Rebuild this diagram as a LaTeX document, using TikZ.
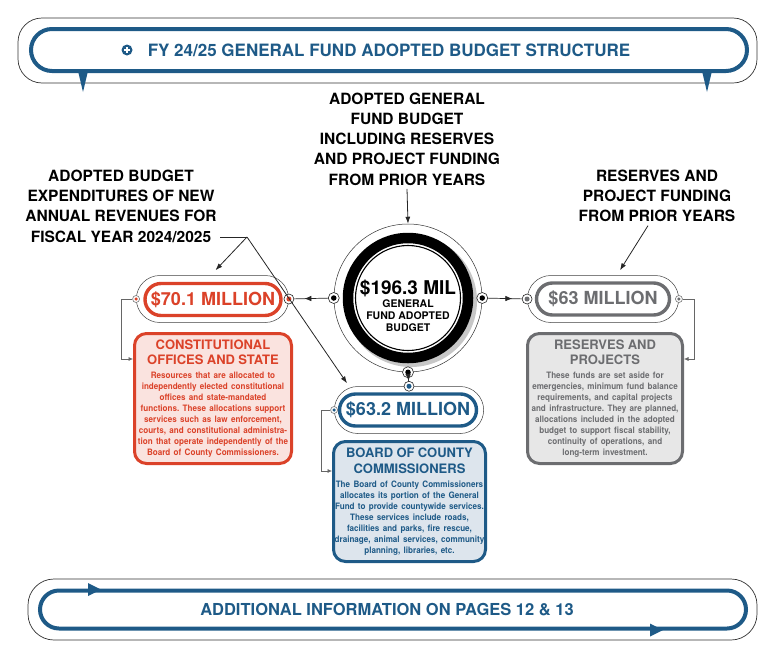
\documentclass[tikz,border=0pt]{standalone}
\usepackage{fontspec}
\setmainfont{TeX Gyre Heros}
\usetikzlibrary{positioning,shapes.misc,arrows.meta,decorations.markings}

\definecolor{fundblue}{RGB}{30,90,135}
\definecolor{fundred}{RGB}{219,66,41}
\definecolor{fundgray}{RGB}{108,109,112}
\definecolor{pinkfill}{RGB}{250,227,223}
\definecolor{bluefill}{RGB}{221,229,237}
\definecolor{grayfill}{RGB}{231,231,231}

\newcommand\headfont{\fontsize{15.5}{20.3}\selectfont}
\newcommand\boxtitle{\fontsize{13}{15.5}\selectfont}
\newcommand\boxbody{\fontsize{8.8}{11}\selectfont\addfontfeature{FakeStretch=0.92}}
\frenchspacing

\begin{document}
\begin{tikzpicture}
[x=1pt,y=-1pt,
 every node/.style={font=\bfseries},
 frame/.style={draw=black!80,line width=0.7pt,rounded corners=#1},
 halo/.style={draw=black!75,line width=0.5pt,rounded rectangle,minimum height=47pt},
 amount/.style={draw=#1,text=#1,line width=3.4pt,fill=white,rounded rectangle,minimum height=32pt,inner xsep=2pt,font=\bfseries\fontsize{18}{20}\selectfont},
 infobox/.style={draw=#1,text=#1,line width=3pt,rounded corners=12pt,align=center,inner xsep=1pt,inner ysep=0pt},
 port/.style 2 args={circle,draw=black!85,fill=white,line width=0.6pt,inner sep=0pt,minimum size=#2,
   path picture={\fill[#1] (path picture bounding box.center) circle[radius=#2/4];}},
 tip/.style={draw=black!85,line width=0.8pt,-{Latex[length=7pt,width=5pt]}},
 feed/.style={draw=black!60,line width=0.6pt,-{Latex[length=4.5pt,width=4pt]}},
 midarrow/.style={draw=black!85,line width=0.7pt,postaction={decorate},
   decoration={markings,mark=at position #1 with {\arrow{Latex[length=7pt,width=5.5pt]}}}}]
\useasboundingbox (0,0) rectangle (773,656);

% top banner
\node[frame=24pt,minimum width=739pt,minimum height=65pt] (topframe) at (387.5,50.5) {};
\node[draw=fundblue,line width=4pt,rounded corners=21pt,minimum width=716pt,minimum height=42pt,
  text=fundblue,font=\bfseries\fontsize{17}{20}\selectfont] (banner) at (389,50)
  {FY 24/25 GENERAL FUND ADOPTED BUDGET STRUCTURE};
\node[circle,fill=fundblue,minimum size=11pt,inner sep=0pt,
  path picture={\draw[white,line width=1.3pt]
    ([xshift=-2.6pt]path picture bounding box.center) -- ([xshift=2.6pt]path picture bounding box.center)
    ([yshift=-2.6pt]path picture bounding box.center) -- ([yshift=2.6pt]path picture bounding box.center);}]
  (plusicon) at (127,50) {};
\fill[fundblue] (78,71) -- (88,71) -- (83,92) -- cycle;
\fill[fundblue] (702,71) -- (712,71) -- (707,92) -- cycle;

% labels
\node[align=center,font=\bfseries\headfont] (totaltxt) at (407,139) {ADOPTED GENERAL\\FUND BUDGET\\INCLUDING RESERVES\\AND PROJECT FUNDING\\FROM PRIOR YEARS};
\node[align=center,font=\bfseries\headfont] (newtxt) at (121,206) {ADOPTED BUDGET\\EXPENDITURES OF NEW\\ANNUAL REVENUES FOR\\FISCAL YEAR 2024/2025};
\node[align=center,font=\bfseries\headfont] (restxt) at (657,196) {RESERVES AND\\PROJECT FUNDING\\FROM PRIOR YEARS};

% hub
\coordinate (hubc) at (408,298);
\fill[black!22] ([shift={(3pt,-3pt)}]hubc) circle[radius=66];
\fill[white] (hubc) circle[radius=55];
\draw[line width=10.5pt] (hubc) circle[radius=60];
\draw[line width=1.1pt,fill=white] (hubc) circle[radius=52.5];
\node[circle,draw=black!80,line width=0.5pt,minimum size=148pt] (hub) at (hubc) {};
\node[align=center] (hubtext) at ([yshift=-8pt]hubc)
  {{\fontsize{19}{20}\selectfont\$196.3 MIL}\\[1pt]
   {\fontsize{10.5}{13.5}\selectfont GENERAL}\\{\fontsize{10.5}{13.5}\selectfont FUND ADOPTED}\\{\fontsize{10.5}{13.5}\selectfont BUDGET}};

% amounts
\node[halo,minimum width=159pt] (halo70) at (212.5,299) {};
\node[amount=fundred,minimum width=140pt] (amt70) at (213,299.5) {\$70.1 MILLION};
\node[halo,minimum width=156pt] (halo632) at (409,410) {};
\node[amount=fundblue,minimum width=141pt] (amt632) at (408,410) {\$63.2 MILLION};
\node[halo,minimum width=158pt] (halo63) at (603,299) {};
\node[amount=fundgray,minimum width=137pt] (amt63) at (603,299) {\$63 MILLION};

% info boxes
\node[infobox=fundred,fill=pinkfill,text width=155pt,minimum height=130pt] (box70) at (213,398.5)
  {\boxtitle CONSTITUTIONAL\\OFFICES AND STATE\par\vspace{3pt}
   \boxbody Resources that are allocated to\\independently elected constitutional\\offices and state-mandated\\functions. These allocations support\\services such as law enforcement,\\courts, and constitutional administra-\\tion that operate independently of the\\Board of County Commissioners.\par};
\node[infobox=fundblue,fill=bluefill,text width=150pt,minimum height=120pt] (box632) at (409.5,501.5)
  {\boxtitle BOARD OF COUNTY\\COMMISSIONERS\par\vspace{3pt}
   \boxbody The Board of County Commissioners\\allocates its portion of the General\\Fund to provide countywide services.\\These services include roads,\\facilities and parks, fire rescue,\\drainage, animal services, community\\planning, libraries, etc.\par};
\node[infobox=fundgray,fill=grayfill,text width=153pt,minimum height=130pt] (box63) at (605,398.5)
  {\boxtitle RESERVES AND\\PROJECTS\par\vspace{3pt}
   \boxbody These funds are set aside for\\emergencies, minimum fund balance\\requirements, and capital projects\\and infrastructure. They are planned,\\allocations included in the adopted\\budget to support fiscal stability,\\continuity of operations, and\\long-term investment.\par};

% ports
\node[port={black}{11pt}] (hubW) at (hub.west) {};
\node[port={black}{11pt}] (hubE) at (hub.east) {};
\node[port={black}{11pt}] (hubS) at (hub.south) {};
\node[port={fundred}{7pt},draw=black!55] (p70l) at (halo70.west) {};
\node[port={fundred}{10pt}] (p70r) at (halo70.east) {};
\node[port={fundblue}{10pt}] (p632t) at (halo632.north) {};
\node[port={fundblue}{7pt},draw=black!55] (p632l) at (halo632.west) {};
\node[port={fundgray}{10pt}] (p63l) at (halo63.west) {};
\node[port={fundgray}{7pt},draw=black!55] (p63r) at (halo63.east) {};

% connectors
\coordinate (fork) at (247,237);
\draw[black!85,line width=0.8pt] (newtxt.east |- fork) -- (fork);
\draw[tip] (fork) -- ([xshift=3pt,yshift=5pt]halo70.north);
\draw[tip] (fork) -- ([xshift=-62pt,yshift=3pt]halo632.north);
\draw[tip] (totaltxt.south) -- (hub.north);
\draw[tip] ([xshift=-9pt]restxt.south) -- ([xshift=17pt,yshift=5pt]halo63.north);
\draw[midarrow=0.7] (hubW) -- (p70r);
\draw[midarrow=0.72] (hubE) -- (p63l);
\draw[midarrow=0.95] (hubS) -- (p632t);
\draw[feed] (p70l) -- ++(-15,0) |- ([yshift=39.5pt]box70.west);
\draw[feed] (p632l) -- ++(-13,0) |- ([yshift=30.5pt]box632.west);
\draw[feed] (p63r) -- ++(15,0) |- ([yshift=39.5pt]box63.east);

% bottom banner
\node[frame=26pt,minimum width=729pt,minimum height=61pt] (botframe) at (392.5,609.5) {};
\node[draw=fundblue,line width=4pt,rounded corners=19pt,minimum width=706pt,minimum height=38pt] (footer) at (393,609.5) {};
\node[text=fundblue,font=\bfseries\fontsize{16.5}{20}\selectfont] (moreinfo) at (387,610) {ADDITIONAL INFORMATION ON PAGES 12 \& 13};
\fill[fundblue] (88,583) -- (101,589.5) -- (88,596) -- cycle;
\fill[fundblue] (650,623.5) -- (663,630) -- (650,636.5) -- cycle;
\end{tikzpicture}
\end{document}
